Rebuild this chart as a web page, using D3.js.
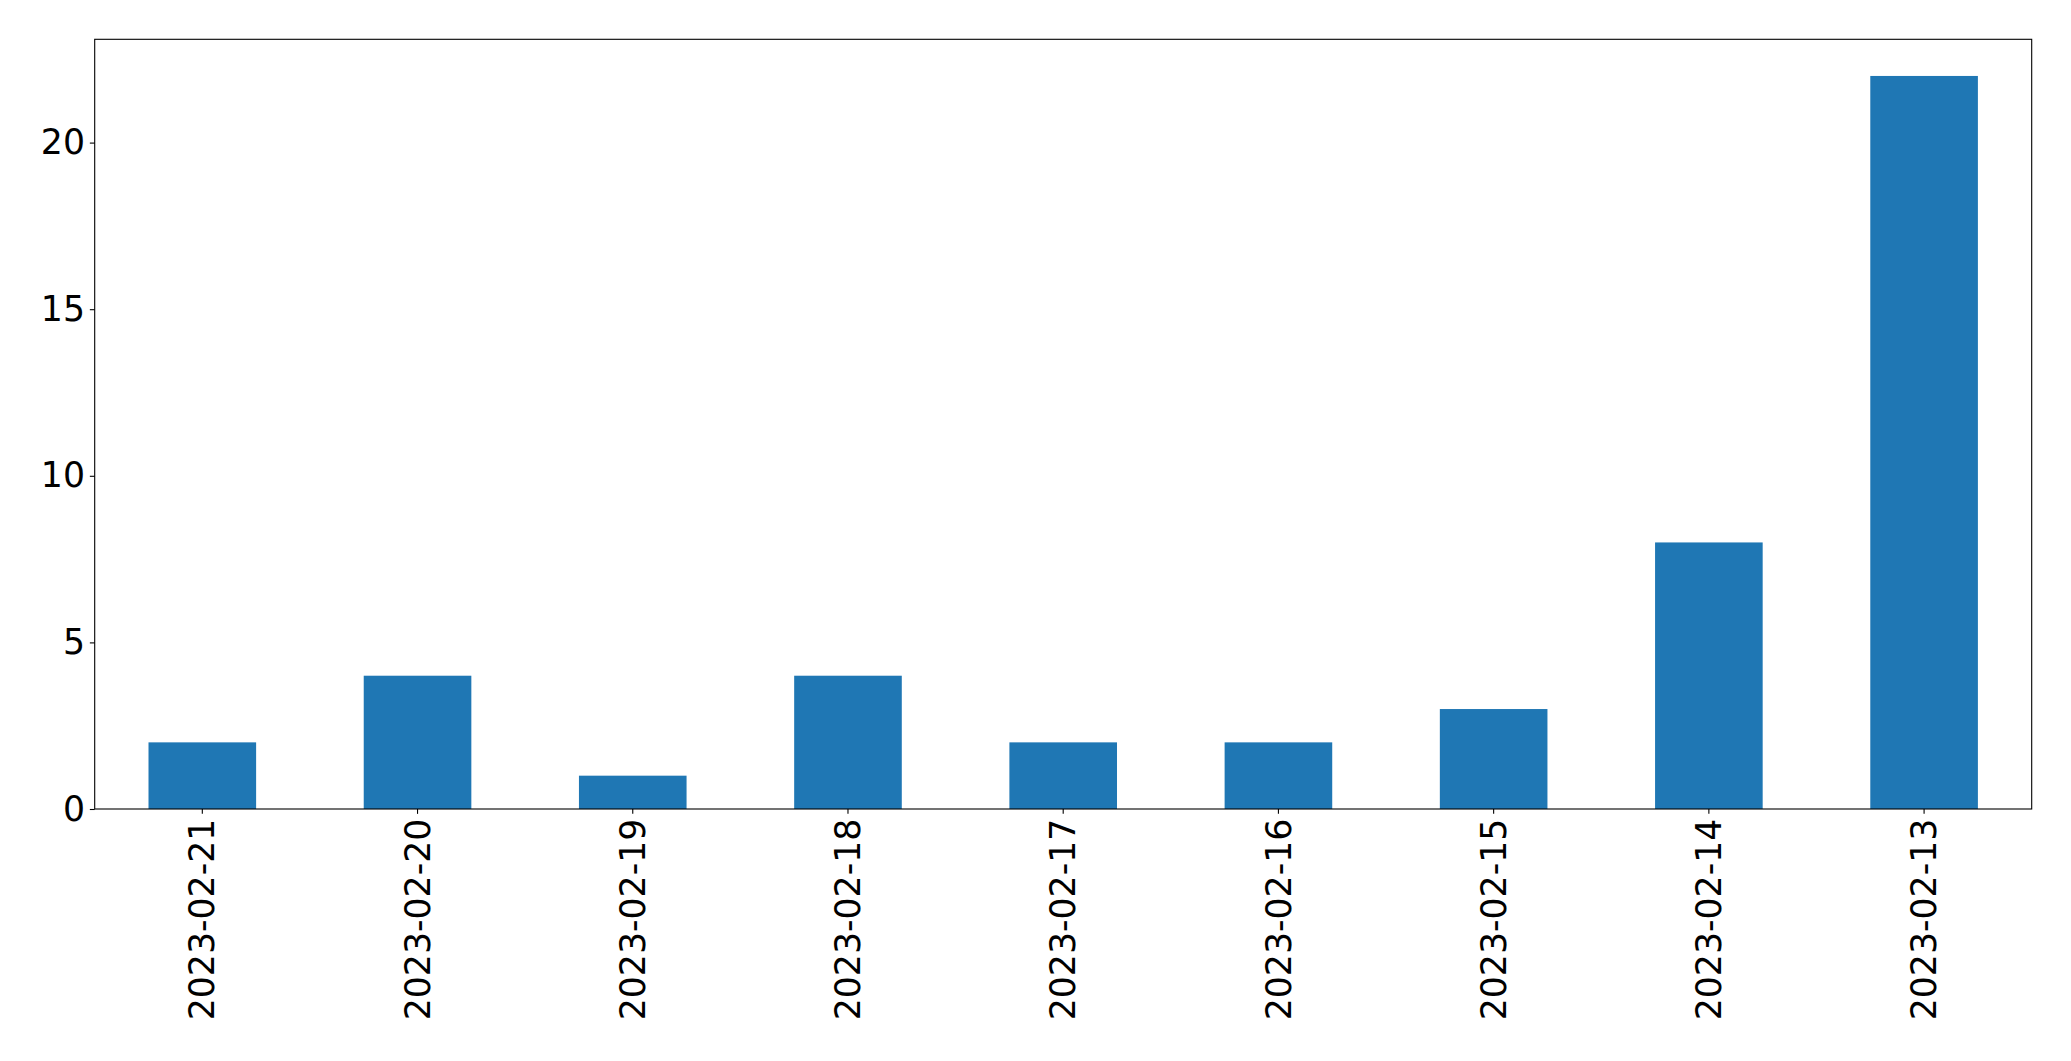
<!DOCTYPE html>
<html><head><meta charset="utf-8">
<script src="https://cdn.jsdelivr.net/npm/d3@7"></script>
<style>body{margin:0;background:#fff}svg{display:block}</style>
</head><body>
<script>
const categories = ["2023-02-21","2023-02-20","2023-02-19","2023-02-18","2023-02-17","2023-02-16","2023-02-15","2023-02-14","2023-02-13"];
const values = [2,4,1,4,2,2,3,8,22];
const yTicks = [0,5,10,15,20];

const W = 2071, H = 1061;
const m = {left:94.7, right:2031.7, top:39.3, bottom:809};
const svg = d3.select("body").append("svg").attr("width",W).attr("height",H);

const x = d3.scaleBand().domain(categories).range([m.left,m.right]).paddingInner(0.5).paddingOuter(0.25);
const y = d3.scaleLinear().domain([0, d3.max(values)*1.05]).range([m.bottom,m.top]);

svg.append("g").selectAll("rect").data(values).join("rect")
  .attr("x",(d,i)=>x(categories[i]))
  .attr("width",x.bandwidth())
  .attr("y",d=>y(d))
  .attr("height",d=>y(0)-y(d))
  .attr("fill","#1f77b4");

const font = "DejaVu Sans";
const yAxis = svg.append("g").attr("transform",`translate(${m.left},0)`)
  .call(d3.axisLeft(y).tickValues(yTicks).tickSize(4.86).tickPadding(4.86).tickFormat(d3.format("d")));
yAxis.select(".domain").remove();
yAxis.selectAll("text").attr("font-family",font).attr("font-size","34.7px").attr("fill","#000");
yAxis.selectAll("line").attr("stroke","#000").attr("stroke-width",1.1);

const xAxis = svg.append("g").attr("transform",`translate(0,${m.bottom})`)
  .call(d3.axisBottom(x).tickSize(4.86).tickPadding(0));
xAxis.select(".domain").remove();
xAxis.selectAll("line").attr("stroke","#000").attr("stroke-width",1.1);
xAxis.selectAll("text")
  .attr("font-family",font).attr("font-size","34.7px").attr("fill","#000")
  .attr("transform","translate(0,9.7) rotate(-90)")
  .attr("x",0).attr("y",0).attr("dy","0.35em")
  .attr("text-anchor","end");

svg.append("rect").attr("x",m.left).attr("y",m.top)
  .attr("width",m.right-m.left).attr("height",m.bottom-m.top)
  .attr("fill","none").attr("stroke","#000").attr("stroke-width",1.1);
</script>
</body></html>
